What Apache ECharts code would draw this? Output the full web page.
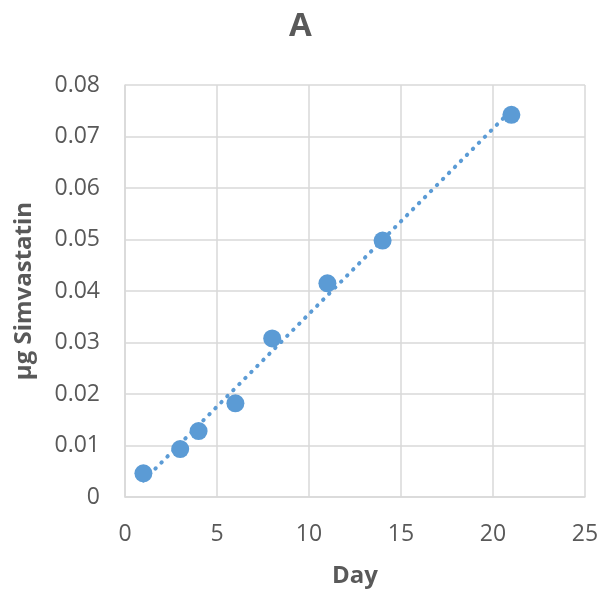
<!DOCTYPE html>
<html>
<head>
<meta charset="utf-8">
<script src="https://cdn.jsdelivr.net/npm/echarts@6/dist/echarts.min.js"></script>
<style>
  html, body { margin: 0; padding: 0; background: #fff; }
  #chart { width: 601px; height: 589px; }
</style>
</head>
<body>
<div id="chart"></div>
<script>
// data
var days = [1, 3, 4, 6, 8, 11, 14, 21];
var simvastatin = [0.0046, 0.0093, 0.0128, 0.0182, 0.0308, 0.0415, 0.0498, 0.0742];

var points = days.map(function (d, i) { return [d, simvastatin[i]]; });

// linear trendline, like Excel's
var n = days.length;
var mx = days.reduce(function (a, b) { return a + b; }, 0) / n;
var my = simvastatin.reduce(function (a, b) { return a + b; }, 0) / n;
var sxy = 0, sxx = 0;
for (var i = 0; i < n; i++) {
  sxy += (days[i] - mx) * (simvastatin[i] - my);
  sxx += (days[i] - mx) * (days[i] - mx);
}
var slope = sxy / sxx;
var intercept = my - slope * mx;
var xFirst = days[0], xLast = days[n - 1];
var trend = [[xFirst, intercept + slope * xFirst], [xLast, intercept + slope * xLast]];

var font = '"Open Sans", sans-serif';
var grey = '#595959';
var blue = '#5b9bd5';

var chart = echarts.init(document.getElementById('chart'), null, { renderer: 'canvas' });

chart.setOption({
  animation: false,
  title: {
    text: 'A',
    left: 'center',
    top: 5,
    textStyle: { fontFamily: font, fontSize: 33, fontWeight: 'bold', color: grey }
  },
  grid: { left: 125, right: 16, top: 85, bottom: 92, outerBoundsMode: 'none', containLabel: false },
  xAxis: {
    type: 'value',
    min: 0, max: 25, interval: 5,
    name: 'Day',
    nameLocation: 'middle',
    nameGap: 67,
    nameTextStyle: { fontFamily: font, fontSize: 24, fontWeight: 'bold', color: grey },
    axisLine: { show: true, lineStyle: { color: '#d9d9d9', width: 1.5 } },
    axisTick: { show: false },
    axisLabel: { fontFamily: font, fontSize: 23, color: grey, margin: 26 },
    splitLine: { show: true, lineStyle: { color: '#d9d9d9', width: 1.5 } }
  },
  yAxis: {
    type: 'value',
    min: 0, max: 0.08, interval: 0.01,
    name: 'µg Simvastatin',
    nameLocation: 'middle',
    nameGap: 89,
    nameTextStyle: { fontFamily: font, fontSize: 24, fontWeight: 'bold', color: grey },
    axisLine: { show: true, lineStyle: { color: '#d9d9d9', width: 1.5 } },
    axisTick: { show: false },
    axisLabel: {
      fontFamily: font, fontSize: 23, color: grey, margin: 25,
      formatter: function (v) { return v === 0 ? '0' : v.toFixed(2); }
    },
    splitLine: { show: true, lineStyle: { color: '#d9d9d9', width: 1.5 } }
  },
  series: [
    {
      name: 'Trend',
      type: 'line',
      data: trend,
      symbol: 'none',
      lineStyle: { color: blue, width: 4, type: [0.5, 8], cap: 'round' },
      z: 1
    },
    {
      name: 'Simvastatin',
      type: 'scatter',
      data: points,
      symbolSize: 18,
      itemStyle: { color: blue, opacity: 1 },
      z: 2
    }
  ]
});
</script>
</body>
</html>
